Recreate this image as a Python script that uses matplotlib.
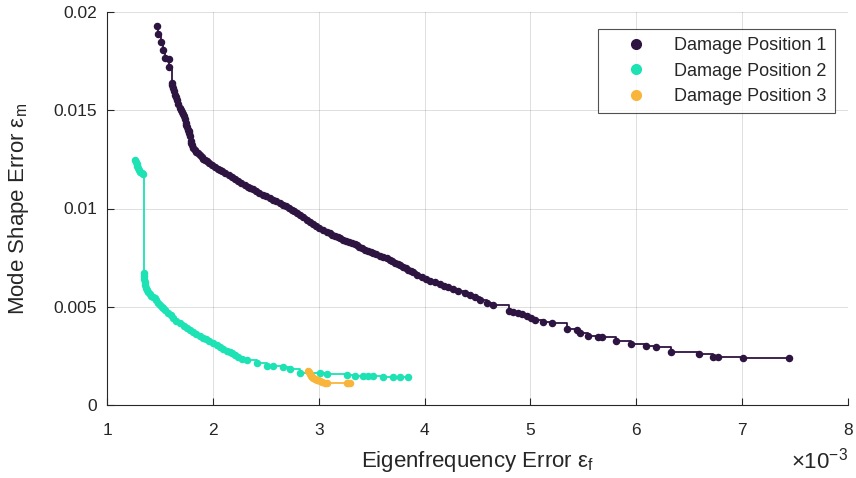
import matplotlib
matplotlib.use("Agg")
import matplotlib.pyplot as plt
from matplotlib.lines import Line2D

plt.rcParams['font.family'] = ['Liberation Sans', 'DejaVu Sans']
plt.rcParams['mathtext.fontset'] = 'custom'
plt.rcParams['mathtext.rm'] = 'Liberation Sans'
plt.rcParams['mathtext.it'] = 'Liberation Sans:italic'

# ---- data (x in units of 1e-3) ----
x1 = [1.472, 1.485, 1.507, 1.526, 1.548, 1.586, 1.589, 1.611, 1.617, 1.624, 1.633, 1.642,
      1.651, 1.661, 1.675, 1.690, 1.700, 1.709, 1.718, 1.727, 1.737, 1.746, 1.751, 1.756,
      1.765, 1.770, 1.775, 1.784, 1.789, 1.796, 1.803, 1.817, 1.831, 1.845, 1.860, 1.878,
      1.897, 1.911, 1.926, 1.945, 1.964, 1.990, 2.020, 2.044, 2.068, 2.090, 2.115, 2.148,
      2.181, 2.210, 2.238, 2.270, 2.304, 2.330, 2.351, 2.380, 2.408, 2.440, 2.474, 2.505,
      2.540, 2.570, 2.597, 2.634, 2.660, 2.691, 2.720, 2.748, 2.770, 2.795, 2.825, 2.852,
      2.885, 2.918, 2.945, 2.974, 3.005, 3.041, 3.075, 3.107, 3.130, 3.154, 3.180, 3.201,
      3.230, 3.258, 3.285, 3.314, 3.340, 3.362, 3.385, 3.409, 3.440, 3.466, 3.490, 3.513,
      3.545, 3.579, 3.610, 3.645, 3.670, 3.692, 3.720, 3.749, 3.770, 3.796, 3.820, 3.843,
      3.870, 3.891, 3.928, 3.976, 4.013, 4.051, 4.098, 4.146, 4.184, 4.221, 4.269, 4.316,
      4.382, 4.429, 4.476, 4.524, 4.590, 4.646, 4.798, 4.835, 4.883, 4.920, 4.968, 5.005,
      5.043, 5.119, 5.204, 5.345, 5.440, 5.468, 5.544, 5.638, 5.676, 5.808, 5.950, 6.092,
      6.186, 6.328, 6.592, 6.725, 6.772, 7.008, 7.443]
y1 = [0.01930, 0.01887, 0.01849, 0.01807, 0.01764, 0.01761, 0.01719, 0.01639, 0.01626,
      0.01613, 0.01596, 0.01578, 0.01565, 0.01552, 0.01532, 0.01512, 0.01500, 0.01491,
      0.01480, 0.01471, 0.01456, 0.01435, 0.01425, 0.01415, 0.01400, 0.01392, 0.01384,
      0.01369, 0.01344, 0.01333, 0.01323, 0.01310, 0.01298, 0.01290, 0.01283, 0.01272,
      0.01262, 0.01254, 0.01247, 0.01240, 0.01232, 0.01222, 0.01211, 0.01203, 0.01196,
      0.01189, 0.01181, 0.01170, 0.01160, 0.01150, 0.01140, 0.01130, 0.01120, 0.01111,
      0.01104, 0.01097, 0.01089, 0.01079, 0.01069, 0.01062, 0.01053, 0.01045, 0.01038,
      0.01028, 0.01020, 0.01013, 0.01002, 0.00992, 0.00985, 0.00977, 0.00967, 0.00957,
      0.00944, 0.00931, 0.00921, 0.00911, 0.00900, 0.00891, 0.00882, 0.00875, 0.00867,
      0.00860, 0.00855, 0.00850, 0.00842, 0.00835, 0.00829, 0.00824, 0.00819, 0.00814,
      0.00806, 0.00799, 0.00791, 0.00784, 0.00779, 0.00774, 0.00766, 0.00758, 0.00753,
      0.00748, 0.00740, 0.00733, 0.00725, 0.00718, 0.00710, 0.00702, 0.00695, 0.00687,
      0.00682, 0.00677, 0.00662, 0.00651, 0.00641, 0.00631, 0.00626, 0.00616, 0.00606,
      0.00601, 0.00590, 0.00580, 0.00570, 0.00560, 0.00550, 0.00534, 0.00519, 0.00509,
      0.00478, 0.00473, 0.00468, 0.00463, 0.00453, 0.00443, 0.00433, 0.00422, 0.00417,
      0.00387, 0.00382, 0.00366, 0.00349, 0.00348, 0.00347, 0.00326, 0.00310, 0.00300,
      0.00295, 0.00270, 0.00260, 0.00244, 0.00243, 0.00239, 0.00238]

x2 = [1.265, 1.272, 1.279, 1.286, 1.293, 1.305, 1.316, 1.328, 1.340, 1.350, 1.352, 1.354,
      1.357, 1.359, 1.368, 1.378, 1.392, 1.406, 1.420, 1.435, 1.450, 1.463, 1.482, 1.501,
      1.515, 1.529, 1.552, 1.576, 1.600, 1.623, 1.656, 1.690, 1.723, 1.756, 1.785, 1.812,
      1.845, 1.879, 1.905, 1.935, 1.968, 2.001, 2.035, 2.067, 2.100, 2.134, 2.160, 2.181,
      2.210, 2.238, 2.280, 2.322, 2.417, 2.511, 2.568, 2.663, 2.729, 2.823, 3.012, 3.078,
      3.267, 3.343, 3.418, 3.466, 3.513, 3.607, 3.702, 3.768, 3.843]
y2 = [0.01247, 0.01237, 0.01227, 0.01216, 0.01206, 0.01196, 0.01188, 0.01181, 0.01176,
      0.00672, 0.00656, 0.00641, 0.00626, 0.00611, 0.00597, 0.00585, 0.00575, 0.00565,
      0.00557, 0.00550, 0.00542, 0.00534, 0.00521, 0.00509, 0.00501, 0.00494, 0.00481,
      0.00468, 0.00456, 0.00443, 0.00430, 0.00417, 0.00404, 0.00392, 0.00382, 0.00372,
      0.00361, 0.00351, 0.00343, 0.00336, 0.00326, 0.00316, 0.00305, 0.00295, 0.00285,
      0.00275, 0.00270, 0.00265, 0.00255, 0.00244, 0.00236, 0.00229, 0.00214, 0.00199,
      0.00196, 0.00193, 0.00183, 0.00164, 0.00162, 0.00158, 0.00153, 0.00150, 0.00148,
      0.00147, 0.00146, 0.00143, 0.00142, 0.00141, 0.00140]

x3 = [2.899, 2.908, 2.918, 2.927, 2.937, 2.950, 2.965, 2.980, 2.993, 3.012, 3.031, 3.055,
      3.078, 3.267, 3.280, 3.295]
y3 = [0.00173, 0.00166, 0.00158, 0.00150, 0.00142, 0.00137, 0.00132, 0.00128, 0.00125,
      0.00121, 0.00117, 0.00114, 0.00112, 0.00111, 0.00110, 0.00110]

labels = ['Damage Position 1', 'Damage Position 2', 'Damage Position 3']
colors = ['#2E1440', '#1DE2B4', '#F9B53A']
xticks = [1, 2, 3, 4, 5, 6, 7, 8]
yticks = [0, 0.005, 0.01, 0.015, 0.02]
ytick_labels = ['0', '0.005', '0.01', '0.015', '0.02']

fig = plt.figure(figsize=(8.56, 4.78), dpi=100)
ax = fig.add_axes([107/856, 1-405/478, 741/856, 393/478])

for xs, ys, c in zip([x1, x2, x3], [y1, y2, y3], colors):
    ax.plot(xs, ys, drawstyle='steps-post', color=c, lw=1.3, zorder=2)
    ax.plot(xs, ys, 'o', color=c, ms=4.4, mec=c, zorder=3)

ax.set_xlim(1, 8)
ax.set_ylim(0, 0.02)
ax.set_xticks(xticks)
ax.set_xticklabels([str(t) for t in xticks])
ax.set_yticks(yticks)
ax.set_yticklabels(ytick_labels)

axc = '#262626'
ax.grid(True, color=axc, alpha=0.15, lw=0.7)
ax.set_axisbelow(True)
for s in ['top', 'right']:
    ax.spines[s].set_visible(False)
for s in ['left', 'bottom']:
    ax.spines[s].set_color(axc)
    ax.spines[s].set_linewidth(0.8)
ax.tick_params(direction='in', length=5, width=0.8, colors=axc, labelsize=12.5)
ax.tick_params(axis='x', pad=13)
ax.tick_params(axis='y', pad=7)

ax.set_xlabel('Eigenfrequency Error ε$_\\mathrm{f}$', fontsize=16, color=axc, labelpad=8)
ax.set_ylabel('Mode Shape Error ε$_\\mathrm{m}$', fontsize=16, color=axc, labelpad=16)

fig.text(848/856, 1-468/478, r'$\times10^{-3}$', ha='right', va='baseline', fontsize=16, color=axc)

handles = [Line2D([], [], ls='none', marker='o', ms=7, color=c) for c in colors]
leg = ax.legend(handles, labels, loc='upper right', bbox_to_anchor=(0.982, 0.957),
                borderaxespad=0, fontsize=13, frameon=True, fancybox=False,
                handlelength=3.3, handletextpad=0.45, borderpad=0.45, labelspacing=0.48)
leg.get_frame().set_edgecolor(axc)
leg.get_frame().set_linewidth(0.8)
for t in leg.get_texts():
    t.set_color(axc)

fig.savefig('out.png', dpi=100)
